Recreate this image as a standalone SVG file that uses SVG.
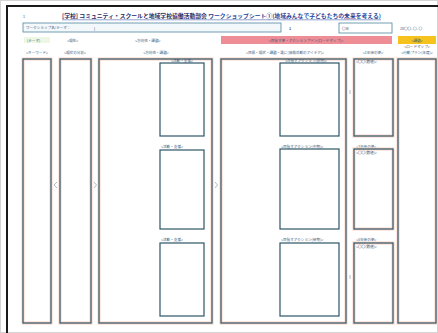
<svg xmlns="http://www.w3.org/2000/svg" width="438" height="333" viewBox="0 0 438 333">
<defs>
<style>
.glow{fill:none;stroke:#fbd9cd;stroke-width:3.2}
.box{fill:none;stroke:#2c5566;stroke-width:1.2}
.in{fill:#ffffff;stroke:#2c5566;stroke-width:1.2}
.t{font-family:"Noto Sans CJK JP","Noto Sans",sans-serif;fill:#3f5a78;font-size:3.6px}
.h{font-family:"Noto Sans CJK JP","Noto Sans",sans-serif;font-weight:bold;font-size:5.4px;fill:#1c2a66}
.arr{fill:none;stroke:#9aa9b6;stroke-width:0.8}
</style>
</defs>
<rect x="0" y="0" width="438" height="333" fill="#ffffff"/>
<rect x="0.5" y="0.5" width="437" height="332" fill="none" stroke="#d4d4d4" stroke-width="1"/>
<path d="M7 333 V6 H438" fill="none" stroke="#1a1a1a" stroke-width="2"/>

<g id="title">
<text class="t" x="23" y="18" font-size="4.5px">1</text>
<text class="h" x="62" y="18" textLength="319" lengthAdjust="spacingAndGlyphs">[学校] コミュニティ・スクールと地域学校協働活動部会 <tspan fill="#23439a">ワークショップシート①(地域みんなで子どもたちの未来を考える)</tspan></text>
<line x1="62" y1="19.8" x2="381" y2="19.8" stroke="#23439a" stroke-width="0.5"/>
</g>

<g id="theme-row">
<rect x="23" y="23" width="258" height="9" fill="#f3f8fb" stroke="#4f86a0" stroke-width="0.8"/>
<text class="t" x="26" y="29.3" fill="#7fa6c0">ワークショップ名/テーマ：</text>
<text class="t" x="94" y="29.5" font-size="5px" fill="#2a3e5a" font-weight="bold">|</text>
<text class="t" x="289" y="29.5" font-size="5px" fill="#2a3e5a" font-weight="bold">1</text>
</g>

<g id="year">
<rect x="339" y="23" width="53" height="10" fill="#ffffff" stroke="#4f86a0" stroke-width="0.8"/>
<text class="t" x="342" y="29.5">〇年</text>
</g>
<g id="date"><text class="t" x="400" y="29.5">20〇〇. 〇. 〇</text></g>

<g id="header-bars">
<rect x="24" y="37" width="26" height="6" fill="#eef7e4"/>
<text class="t" x="27" y="41.5" fill="#6aa640">(テーマ)</text>
<text class="t" x="67" y="41.5">&lt;現在&gt;</text>
<text class="t" x="135" y="41.5">&lt;方向性・課題&gt;</text>
<rect x="221" y="36" width="171" height="8" fill="#ee8d96"/>
<text class="t" x="306" y="41.5" text-anchor="middle" fill="#8a2436">&lt;目指す姿・アクションプラン(ロードマップ)&gt;</text>
<rect x="398" y="36" width="38" height="8" fill="#f5c21e"/>
<text class="t" x="417" y="41.5" text-anchor="middle" fill="#3a2a00">&lt;課題&gt;</text>
</g>

<g id="col-keyword">
<text class="t" x="37" y="54" text-anchor="middle">&lt;キーワード&gt;</text>
<rect class="glow" x="23" y="59" width="28" height="264"/>
<rect class="box" x="23" y="59" width="28" height="264"/>
</g>

<g id="col-analysis">
<text class="t" x="75" y="54" text-anchor="middle">&lt;現状の分析&gt;</text>
<rect class="glow" x="60" y="59" width="31" height="264"/>
<rect class="box" x="60" y="59" width="31" height="264"/>
</g>

<g id="col-direction">
<text class="t" x="156" y="54" text-anchor="middle">&lt;方向性・課題&gt;</text>
<rect class="glow" x="99" y="59" width="113" height="264"/>
<rect class="box" x="99" y="59" width="113" height="264"/>
<text class="t" x="182" y="62" text-anchor="middle">&lt;活動・支援&gt;</text>
<rect class="in" x="160" y="63" width="44" height="73"/>
<text class="t" x="172" y="147.5" text-anchor="middle">&lt;活動・支援&gt;</text>
<rect class="in" x="160" y="150" width="44" height="79"/>
<text class="t" x="172" y="240.5" text-anchor="middle">&lt;活動・支援&gt;</text>
<rect class="in" x="160" y="243" width="44" height="73"/>
</g>

<g id="col-action">
<text class="t" x="285" y="54" text-anchor="middle">&lt;目標・現状・課題・誰に(協働活動のアイデア)&gt;</text>
<rect class="glow" x="221" y="59" width="125" height="264"/>
<rect class="box" x="221" y="59" width="125" height="264"/>
<text class="t" x="306" y="62" text-anchor="middle">&lt;目指すアクション(前期)&gt;</text>
<rect class="in" x="280" y="63" width="59" height="73"/>
<text class="t" x="281" y="147.5">&lt;目指すアクション(中期)&gt;</text>
<rect class="in" x="280" y="149" width="59" height="80"/>
<text class="t" x="281" y="240.5">&lt;目指すアクション(後期)&gt;</text>
<rect class="in" x="280" y="243" width="59" height="73"/>
</g>

<g id="col-future">
<text class="t" x="373" y="54" text-anchor="middle">&lt;1年後の姿&gt;</text>
<rect class="glow" x="354" y="59" width="39" height="77"/>
<rect class="box" x="354" y="59" width="39" height="77"/>
<text class="t" x="356" y="63">&lt;〇〇(数値)&gt;</text>
<text class="t" x="356" y="147.5">&lt;3年後の姿&gt;</text>
<rect class="glow" x="354" y="149" width="39" height="80"/>
<rect class="box" x="354" y="149" width="39" height="80"/>
<text class="t" x="356" y="154">&lt;〇〇(数値)&gt;</text>
<text class="t" x="356" y="240.5">&lt;5年後の姿&gt;</text>
<rect class="glow" x="354" y="243" width="39" height="80"/>
<rect class="box" x="354" y="243" width="39" height="80"/>
<text class="t" x="356" y="248">&lt;〇〇(数値)&gt;</text>
</g>

<g id="col-roadmap">
<text class="t" x="417" y="48" text-anchor="middle">&lt;ロードマップ&gt;</text>
<text class="t" x="417" y="54" text-anchor="middle">&lt;行動プラン(年度)&gt;</text>
<rect class="glow" x="398" y="59" width="38" height="264"/>
<rect class="box" x="398" y="59" width="38" height="264"/>
</g>

<g id="connectors">
<path class="arr" d="M57 182 L54 185 L57 188"/>
<path class="arr" d="M94 182 L96.5 185 L94 188"/>
<path class="arr" d="M215 182 L217.5 185 L215 188"/>
<path class="arr" d="M350 90 V94"/>
<path class="arr" d="M350 275 V279"/>
</g>
</svg>
